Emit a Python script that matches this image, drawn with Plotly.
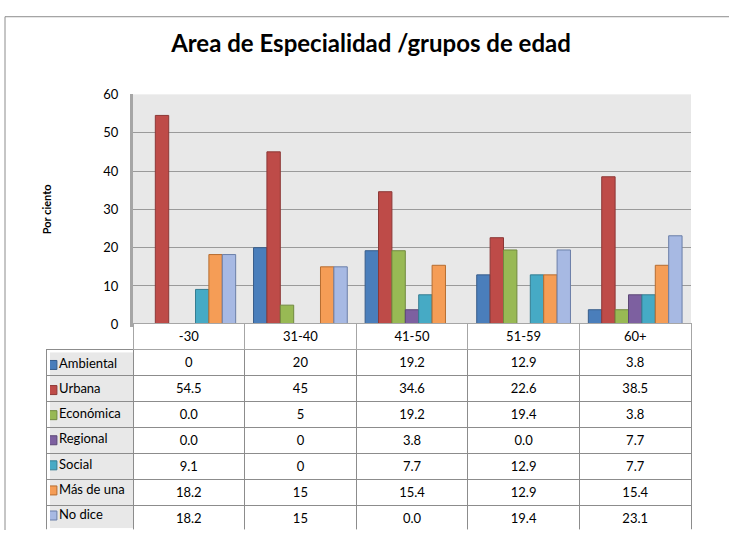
import plotly.graph_objects as go

# Datos (grupos de edad y porcentajes por área de especialidad)
grupos = ["-30", "31-40", "41-50", "51-59", "60+"]
areas = ["Ambiental", "Urbana", "Económica", "Regional", "Social", "Más de una", "No dice"]

ambiental = ["0", "20", "19.2", "12.9", "3.8"]
urbana = ["54.5", "45", "34.6", "22.6", "38.5"]
economica = ["0.0", "5", "19.2", "19.4", "3.8"]
regional = ["0.0", "0", "3.8", "0.0", "7.7"]
social = ["9.1", "0", "7.7", "12.9", "7.7"]
mas_de_una = ["18.2", "15", "15.4", "12.9", "15.4"]
no_dice = ["18.2", "15", "0.0", "19.4", "23.1"]

y_ticks = [0, 10, 20, 30, 40, 50, 60]

series = [ambiental, urbana, economica, regional, social, mas_de_una, no_dice]

COLORS = ["#4A7EBB", "#BE4B48", "#98B954", "#7D60A0", "#46AAC5", "#F59D56", "#A7B9E3"]
LINES = ["#385D8A", "#8C3836", "#71893F", "#5C4776", "#357D91", "#B66D31", "#6B7FA8"]
FONT = "Lato"
COLOR_FONT = "#000000"

W, H = 729, 538

fig = go.Figure()

for area, vals, col, lcol in zip(areas, series, COLORS, LINES):
    fig.add_trace(go.Bar(
        x = grupos,
        y = [float(v) for v in vals],
        name = area,
        marker = dict(color = col, line = dict(color = lcol, width = 1)),
        showlegend = False,
    ))

# Claves de color y nombres de la tabla
fig.add_trace(go.Scatter(
    x = [0] * len(areas),
    y = areas,
    mode = "markers+text",
    marker = dict(symbol = "square", size = 9, color = COLORS,
                  line = dict(color = LINES, width = 1)),
    text = areas,
    textposition = "middle right",
    textfont = dict(family = FONT, size = 13, color = COLOR_FONT),
    xaxis = "x2",
    yaxis = "y2",
    showlegend = False,
    hoverinfo = "skip",
))

# Tabla de datos bajo el gráfico
data_cols = [[s[i] for s in series] for i in range(len(grupos))]

fig.add_trace(go.Table(
    domain = dict(x = [46 / W, 691 / W], y = [0.0, 1 - 325 / H]),
    columnwidth = [87] + [111.6] * len(grupos),
    header = dict(
        values = [""] + grupos,
        height = 26,
        align = "center",
        fill_color = ["rgba(0,0,0,0)"] + ["white"] * len(grupos),
        line = dict(color = ["rgba(0,0,0,0)"] + ["#a6a6a6"] * len(grupos), width = 1),
        font = dict(family = FONT, size = 13, color = COLOR_FONT),
    ),
    cells = dict(
        values = [[""] * len(areas)] + data_cols,
        height = 26,
        align = ["left"] + ["center"] * len(grupos),
        fill_color = ["rgba(0,0,0,0)"] + ["white"] * len(grupos),
        line = dict(color = "#8c8c8c", width = 1),
        font = dict(family = FONT, size = 13, color = COLOR_FONT),
    ),
))

fig.update_layout(
    width = W,
    height = H,
    margin = dict(l = 0, r = 0, t = 0, b = 0),
    paper_bgcolor = "white",
    plot_bgcolor = "#e8e8e8",
    barmode = "group",
    bargap = 0.16,
    bargroupgap = 0,
    font = dict(family = FONT, size = 13, color = COLOR_FONT),
    title = dict(
        text = "<b>Area de Especialidad /grupos de edad</b>",
        x = 371 / W,
        xanchor = "center",
        y = 1 - 44 / H,
        yanchor = "middle",
        font = dict(family = FONT, size = 24, color = COLOR_FONT),
    ),
    xaxis = dict(
        domain = [133 / W, 691 / W],
        showticklabels = False,
        showgrid = False,
        showline = True,
        linecolor = "#a6a6a6",
        linewidth = 3,
        ticks = "",
    ),
    yaxis = dict(
        domain = [1 - 326 / H, 1 - 89 / H],
        range = [0, 60],
        tickvals = y_ticks,
        showgrid = True,
        gridcolor = "#9a9a9a",
        gridwidth = 1,
        showline = True,
        linecolor = "#a6a6a6",
        linewidth = 3,
        zeroline = False,
        ticks = "",
        ticklabelstandoff = 9,
        tickfont = dict(family = FONT, size = 13, color = COLOR_FONT),
        title = dict(
            text = "<b>Por ciento</b>",
            standoff = 50,
            font = dict(family = FONT, size = 11, color = COLOR_FONT),
        ),
    ),
    xaxis2 = dict(
        domain = [50 / W, 133 / W],
        range = [-0.3, 10],
        visible = False,
        fixedrange = True,
    ),
    yaxis2 = dict(
        domain = [1 - 536 / H, 1 - 355 / H],
        range = [len(areas) - 0.5, -0.5],
        type = "category",
        visible = False,
        fixedrange = True,
    ),
    shapes = [
        dict(type = "line", xref = "paper", yref = "paper",
             x0 = 5 / W, x1 = 1, y0 = 1 - 9 / H, y1 = 1 - 9 / H,
             line = dict(color = "#8c8c8c", width = 1)),
        dict(type = "line", xref = "paper", yref = "paper",
             x0 = 5 / W, x1 = 5 / W, y0 = 0, y1 = 1 - 9 / H,
             line = dict(color = "#8c8c8c", width = 1)),
    ],
)

fig.write_html("out.html", config = dict(displayModeBar = False),
               post_script = "document.body.style.margin = '0';")
